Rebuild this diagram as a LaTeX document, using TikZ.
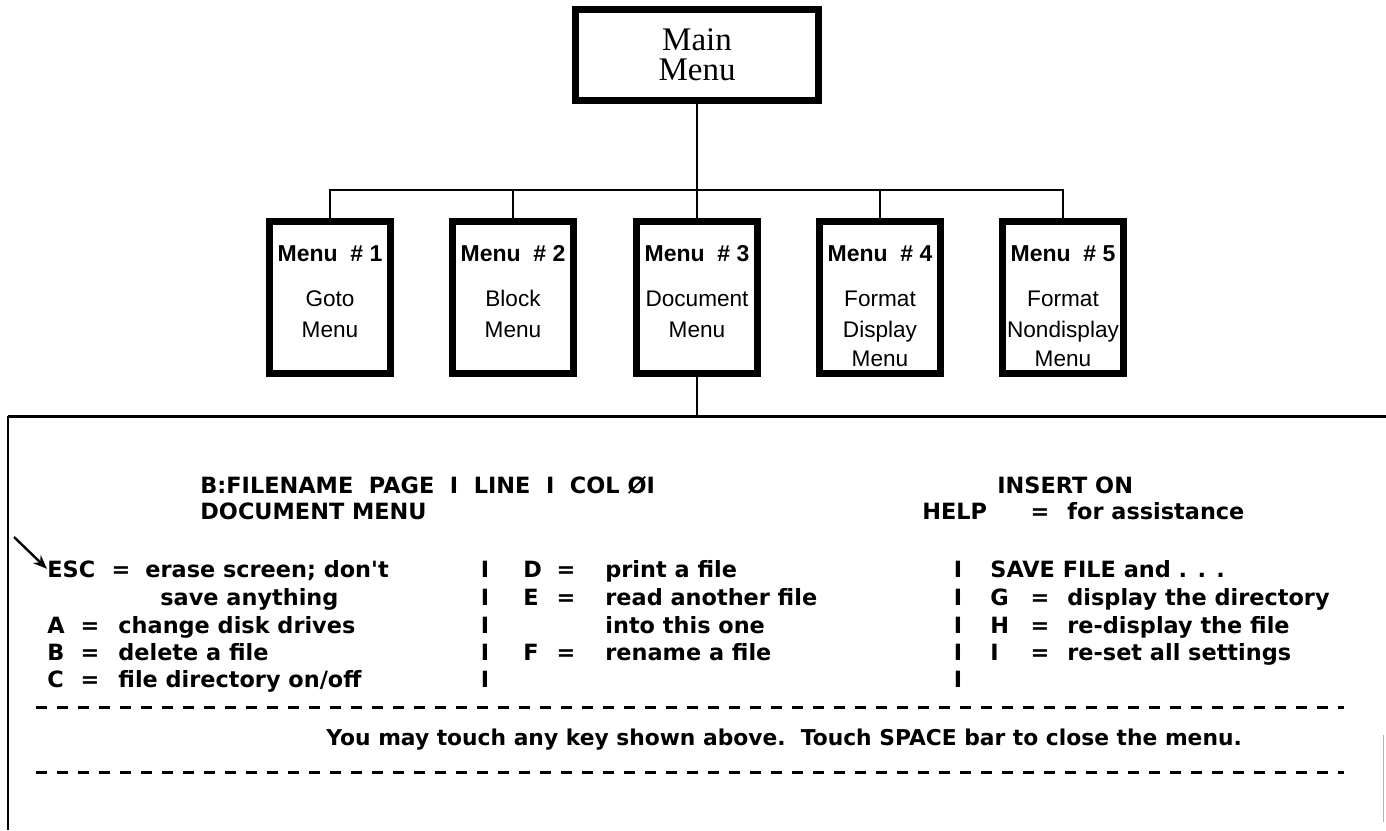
\documentclass[tikz,border=0pt]{standalone}
\usepackage{fontspec}
\setmainfont{Liberation Serif}
\newfontfamily\boxfont{Liberation Sans}
\newfontfamily\scrfont{DejaVu Sans}
\usetikzlibrary{arrows.meta}
\begin{document}
\begin{tikzpicture}[x=0.5pt,y=-0.5pt,
  mainbox/.style={draw,line width=3.5pt,minimum width=121.5pt,minimum height=45.5pt,inner sep=0pt,align=center,font=\fontsize{16.5}{15}\selectfont},
  menubox/.style={draw,line width=3.5pt,minimum width=60.5pt,minimum height=76pt,inner sep=0pt},
  boxtitle/.style={anchor=base,inner sep=0pt,font=\boxfont\bfseries\fontsize{11.5}{13}\selectfont},
  boxtext/.style={anchor=base,inner sep=0pt,font=\boxfont\fontsize{11.3}{13}\selectfont},
  conn/.style={line width=1.25pt},
  scr/.style={anchor=base west,inner sep=0pt,font=\scrfont\bfseries\fontsize{11.2}{13}\selectfont},
  scrc/.style={anchor=base,inner sep=0pt,font=\scrfont\bfseries\fontsize{11.2}{13}\selectfont},
  bar/.style={anchor=base,inner sep=0pt,font=\scrfont\bfseries\fontsize{11.2}{13}\selectfont},
  sepline/.style={line width=1.5pt,dash pattern=on 5.5pt off 5pt},
]
\useasboundingbox (0,0) rectangle (1386,830);
\fill[white] (0,0) rectangle (1386,830);

% ---- tree ----
\node[mainbox] (main) at (697,55) {Main\\Menu};
\node[menubox] (b1) at (330,297.5) {};
\node[menubox] (b2) at (513,297.5) {};
\node[menubox] (b3) at (697,297.5) {};
\node[menubox] (b4) at (880,297.5) {};
\node[menubox] (b5) at (1063,297.5) {};

\node[boxtitle] (t1) at (330,261) {Menu\ \ \#\ 1};
\node[boxtext] (t1a) at (330,306) {Goto};
\node[boxtext] (t1b) at (330,337) {Menu};
\node[boxtitle] (t2) at (513,261) {Menu\ \ \#\ 2};
\node[boxtext] (t2a) at (513,306) {Block};
\node[boxtext] (t2b) at (513,337) {Menu};
\node[boxtitle] (t3) at (697,261) {Menu\ \ \#\ 3};
\node[boxtext] (t3a) at (697,306) {Document};
\node[boxtext] (t3b) at (697,337) {Menu};
\node[boxtitle] (t4) at (880,261) {Menu\ \ \#\ 4};
\node[boxtext] (t4a) at (880,306) {Format};
\node[boxtext] (t4b) at (880,337) {Display};
\node[boxtext] (t4c) at (880,366) {Menu};
\node[boxtitle] (t5) at (1063,261) {Menu\ \ \#\ 5};
\node[boxtext] (t5a) at (1063,306) {Format};
\node[boxtext] (t5b) at (1063,337) {Nondisplay};
\node[boxtext] (t5c) at (1063,366) {Menu};

\coordinate (bus) at (697,190);
\draw[conn] (b1.north) -- (b1.north |- bus) -- (b5.north |- bus) -- (b5.north);
\draw[conn] (main.south) -- (main.south |- bus);
\foreach \b in {b2,b3,b4} \draw[conn] (\b.north) -- (\b.north |- bus);

% ---- screen ----
\coordinate (scrTL) at (8,416);
\coordinate (scrTR) at (1386,416);
\coordinate (scrBL) at (8,830);
\draw[line width=1.5pt] (scrTL) -- (scrTR);
\draw[line width=1.1pt] (scrTL) -- (scrBL);
\draw[conn] (b3.south) -- (b3.south |- scrTL);
\draw[black!30,line width=0.4pt] (1383,735) -- (1383,822);

\node[scr] (hdr1) at (200,493) {B:FILENAME\ \ PAGE\ \ I\ \ LINE\ \ I\ \ COL\ ØI};
\node[scr] (hdr2) at (200,519) {DOCUMENT MENU};
\node[scr] (ins) at (997,493) {INSERT ON};
\node[scr] (help) at (922,519) {HELP};
\node[scrc] (helpEq) at (1040,519) {=};
\node[scr] (helpTx) at (1067,519) {for assistance};

% column 1
\node[scr] (esc) at (47,577) {ESC};
\node[scrc] (escEq) at (121,577) {=};
\node[scr] (escTx) at (145,577) {erase screen; don't};
\node[scr] (escTx2) at (160,605) {save anything};
\node[scr] (kA) at (47,633) {A};
\node[scrc] (kAEq) at (90,633) {=};
\node[scr] (kATx) at (118,633) {change disk drives};
\node[scr] (kB) at (47,660) {B};
\node[scrc] (kBEq) at (90,660) {=};
\node[scr] (kBTx) at (118,660) {delete a file};
\node[scr] (kC) at (47,687) {C};
\node[scrc] (kCEq) at (90,687) {=};
\node[scr] (kCTx) at (118,687) {file directory on/off};

% column separators
\foreach \y [count=\i] in {577,605,633,660,687} {
  \node[bar] (barA\i) at (485,\y) {I};
  \node[bar] (barB\i) at (958,\y) {I};
}

% column 2
\node[scr] (kD) at (523,577) {D};
\node[scrc] (kDEq) at (566,577) {=};
\node[scr] (kDTx) at (605,577) {print a file};
\node[scr] (kE) at (523,605) {E};
\node[scrc] (kEEq) at (566,605) {=};
\node[scr] (kETx) at (605,605) {read another file};
\node[scr] (kETx2) at (605,633) {into this one};
\node[scr] (kF) at (523,660) {F};
\node[scrc] (kFEq) at (566,660) {=};
\node[scr] (kFTx) at (605,660) {rename a file};

% column 3
\node[scr] (save) at (990,577) {SAVE FILE and . . .};
\node[scr] (kG) at (990,605) {G};
\node[scrc] (kGEq) at (1040,605) {=};
\node[scr] (kGTx) at (1067,605) {display the directory};
\node[scr] (kH) at (990,633) {H};
\node[scrc] (kHEq) at (1040,633) {=};
\node[scr] (kHTx) at (1067,633) {re-display the file};
\node[scr] (kI) at (990,660) {I};
\node[scrc] (kIEq) at (1040,660) {=};
\node[scr] (kITx) at (1067,660) {re-set all settings};

% separators and message
\coordinate (d1L) at (36,707);
\coordinate (d1R) at (1344,707);
\coordinate (d2L) at (36,772);
\coordinate (d2R) at (1344,772);
\draw[sepline] (d1L) -- (d1R);
\draw[sepline] (d2L) -- (d2R);
\node[scr,font=\scrfont\bfseries\fontsize{10.9}{13}\selectfont] (msg) at (326,745) {You may touch any key shown above.\ \ Touch SPACE bar to close the menu.};

% arrow to ESC
\coordinate (arrTail) at (14,537);
\draw[line width=1.2pt,-{Stealth[length=7pt,width=5.5pt]}] (arrTail) -- (esc.west);
\end{tikzpicture}
\end{document}
